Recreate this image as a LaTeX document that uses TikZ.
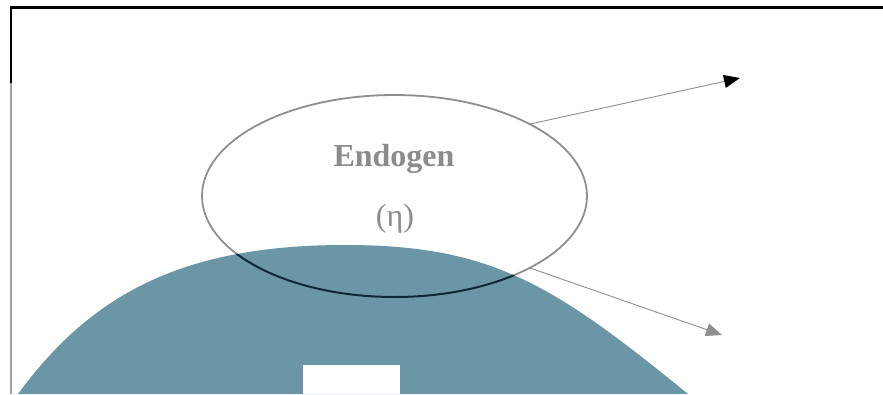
\documentclass[tikz,border=0pt]{standalone}
\usepackage{fontspec}
\setmainfont{Liberation Serif}
\usetikzlibrary{shapes.geometric,arrows.meta}
\definecolor{domeblue}{RGB}{106,150,165}
\definecolor{linegray}{RGB}{143,143,143}
\definecolor{framegray}{RGB}{160,160,160}
\definecolor{darkarc}{RGB}{10,42,56}
\definecolor{textgray}{RGB}{140,140,140}
\tikzset{
  ovalbox/.style={ellipse, draw=linegray, line width=1.8pt, minimum width=385pt, minimum height=202pt, inner sep=0pt, outer sep=0pt},
  labeltext/.style={text=textgray, font=\fontsize{32}{36}\selectfont, inner sep=0pt},
  thinarrow/.style={draw=linegray, line width=0.9pt},
}
\def\domepath{(16,394) -- (18,394) .. controls (90,296) and (180,245) .. (345,245) .. controls (490,245) and (552,283) .. (688,394) -- cycle}
\begin{document}
\begin{tikzpicture}[x=1pt,y=-1pt]
\useasboundingbox (0,0) rectangle (883,394);
\fill[white] (0,0) rectangle (883,394);
% dome
\fill[domeblue] \domepath;
\fill[white] (303,365) rectangle (400,394);
% frame
\draw[line width=3pt] (10,7) -- (883,7);
\draw[line width=2.5pt, black] (11,6) -- (11,83);
\draw[line width=2.5pt, framegray] (11,83) -- (11,394);
% ellipse
\node[ovalbox] (endo) at (394.5,196) {};
\begin{scope}
  \clip \domepath;
  \draw[darkarc, line width=2pt] (394.5,196) ellipse [x radius=192.5, y radius=101];
\end{scope}
% texts
\node[labeltext, anchor=base, font=\fontsize{32}{36}\selectfont\bfseries] (t1) at (394,166) {Endogen};
\node[labeltext, anchor=base] (t2) at (395,226) {(η)};
% arrows
\coordinate (a1) at (740,78);
\coordinate (a2) at (722,335);
\draw[thinarrow, -{Triangle[length=16pt,width=13pt,color=black]}] (endo.28) -- (a1);
\draw[thinarrow, -{Triangle[length=16pt,width=13pt,color=linegray]}] (endo.-28) -- (a2);
\end{tikzpicture}
\end{document}
